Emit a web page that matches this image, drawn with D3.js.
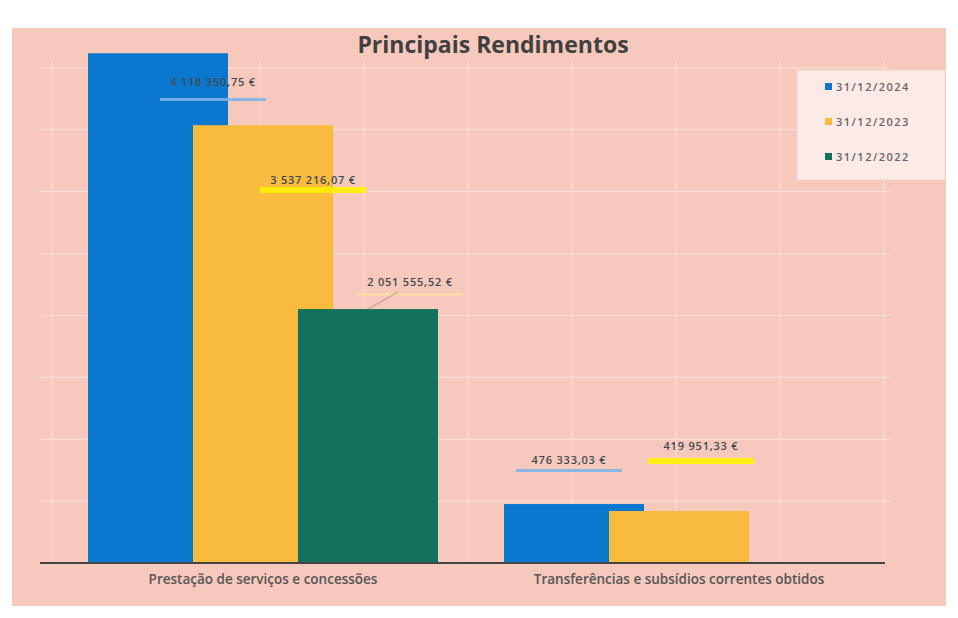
<!DOCTYPE html>
<html>
<head>
<meta charset="utf-8">
<script src="https://cdn.jsdelivr.net/npm/d3@7"></script>
<style>
  body { margin: 0; background: #fff; }
  svg { display: block; }
</style>
</head>
<body>
<svg id="chart"></svg>
<script>
// categories and series
const categories = ["Prestação de serviços e concessões", "Transferências e subsídios correntes obtidos"];
const seriesNames = ["31/12/2024", "31/12/2023", "31/12/2022"];
const seriesColors = ["#0b78d0", "#f9bb3d", "#14715a"];
const values2024 = [4118350.75, 476333.03];
const values2023 = [3537216.07, 419951.33];
const values2022 = [2051555.52, null];
const yTicks = [0, 500000, 1000000, 1500000, 2000000, 2500000, 3000000, 3500000, 4000000, 4500000];

const width = 958, height = 618;
const svg = d3.select("#chart").attr("width", width).attr("height", height);

// pink panel
svg.append("rect")
    .attr("x", 12).attr("y", 28).attr("width", 934).attr("height", 578)
    .attr("fill", "#f7c8bc");

const x0 = d3.scaleBand().domain(categories).range([55, 887]).paddingInner(0).paddingOuter(0);
const y = d3.scaleLinear().domain([0, 4500000]).range([563, 6]);

// faint gridlines
svg.append("g")
    .selectAll("line")
    .data(yTicks.filter(t => y(t) > 60 && t > 0))
    .join("line")
    .attr("x1", 40).attr("x2", 890)
    .attr("y1", d => y(d)).attr("y2", d => y(d))
    .attr("stroke", "#fbe0d8").attr("stroke-width", 1);

svg.append("g")
    .selectAll("line")
    .data(d3.range(0, 9))
    .join("line")
    .attr("x1", d => 52 + d * 104).attr("x2", d => 52 + d * 104)
    .attr("y1", 60).attr("y2", 563)
    .attr("stroke", "#fbded5").attr("stroke-width", 1);

// bars: wide, overlapping inside each group
const step = 105, barW = 140;
const rows = [];
categories.forEach((c, i) => {
    [values2024, values2023, values2022].forEach((vals, s) => {
        if (vals[i] == null) return;
        rows.push({ cat: c, s: s, v: vals[i] });
    });
});
const groupW = step * 2 + barW;
const barX = d => x0(d.cat) + (x0.bandwidth() - groupW) / 2 + d.s * step;

svg.append("g")
    .selectAll("rect")
    .data(rows)
    .join("rect")
    .attr("x", barX)
    .attr("y", d => y(d.v))
    .attr("width", barW)
    .attr("height", d => y(0) - y(d.v))
    .attr("fill", d => seriesColors[d.s]);

// axis line
svg.append("line")
    .attr("x1", 40).attr("x2", 885)
    .attr("y1", y(0)).attr("y2", y(0))
    .attr("stroke", "#444").attr("stroke-width", 2);

// category labels
svg.append("g")
    .selectAll("text")
    .data(categories)
    .join("text")
    .attr("x", d => x0(d) + x0.bandwidth() / 2)
    .attr("y", 584)
    .attr("text-anchor", "middle")
    .attr("font-family", "Open Sans")
    .attr("font-size", 13.5)
    .attr("font-weight", 600)
    .attr("fill", "#555")
    .text(d => d);

// data labels (positions relative to each bar)
const fmt = v => d3.format(",.2f")(v).replace(/,/g, " ").replace(".", ",") + " €";
const labelInfo = [
    { s: 0, i: 0, dx: 125, y: 86, my: 98, mh: 3, mark: "#7fb3e8" },
    { s: 1, i: 0, dx: 120, y: 184, my: 187, mh: 6, mark: "#fff200" },
    { s: 2, i: 0, dx: 112, y: 286, my: 293, mh: 3, mark: "#f8d9a8" },
    { s: 0, i: 1, dx: 65, y: 464, my: 469, mh: 3, mark: "#7fb3e8" },
    { s: 1, i: 1, dx: 92, y: 450, my: 458, mh: 6, mark: "#fff200" }
];
const allVals = [values2024, values2023, values2022];
labelInfo.forEach(l => {
    const d = { cat: categories[l.i], s: l.s, v: allVals[l.s][l.i] };
    const cx = barX(d) + l.dx;
    // highlighter marks drawn on the scan
    svg.append("rect")
        .attr("x", cx - 53).attr("y", l.my)
        .attr("width", 106).attr("height", l.mh)
        .attr("fill", l.mark).attr("opacity", 0.9);
    svg.append("text")
        .attr("x", cx).attr("y", l.y)
        .attr("text-anchor", "middle")
        .attr("font-family", "Open Sans")
        .attr("font-size", 11)
        .attr("letter-spacing", 0.8)
        .attr("font-weight", 600)
        .attr("fill", "#3f4a52")
        .text(fmt(d.v));
});

// leader line for the green label
svg.append("line")
    .attr("x1", 398).attr("y1", 292).attr("x2", 368).attr("y2", y(values2022[0]))
    .attr("stroke", "#c9908a").attr("stroke-width", 1);

// title
svg.append("text")
    .attr("x", 493).attr("y", 53)
    .attr("text-anchor", "middle")
    .attr("font-family", "Open Sans")
    .attr("font-size", 23)
    .attr("font-weight", 700)
    .attr("fill", "#404040")
    .text("Principais Rendimentos");

// legend
const legend = svg.append("g").attr("transform", "translate(797,70)");
legend.append("rect")
    .attr("width", 148).attr("height", 110)
    .attr("fill", "#fbeae5").attr("stroke", "#f3d3ca");
legend.selectAll("g")
    .data(seriesNames)
    .join("g")
    .attr("transform", (d, i) => `translate(28,${17 + i * 35})`)
    .each(function(d, i) {
        const g = d3.select(this);
        g.append("rect").attr("x", 0).attr("y", -4).attr("width", 7).attr("height", 7)
            .attr("fill", seriesColors[i]);
        g.append("text").attr("x", 11).attr("y", 3.5)
            .attr("font-family", "Open Sans").attr("font-size", 11)
            .attr("letter-spacing", 1.5)
            .attr("font-weight", 600).attr("fill", "#666")
            .text(d);
    });
</script>
</body>
</html>
